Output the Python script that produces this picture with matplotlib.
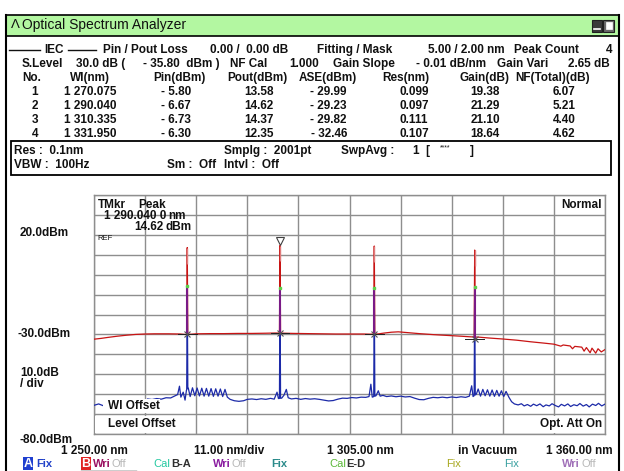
import numpy as np
import matplotlib.pyplot as plt
from matplotlib.patches import Rectangle

W, H = 624, 471
NARROW = ['Liberation Sans Narrow', 'Liberation Sans', 'DejaVu Sans']
PLAIN = ['Liberation Sans', 'DejaVu Sans']

# measured peak table
peak_no = [1, 2, 3, 4]
peak_wl = [1270.075, 1290.040, 1310.335, 1331.950]
pin = [-5.80, -6.67, -6.73, -6.30]
pout = [13.58, 14.62, 14.37, 12.35]
ase = [-29.99, -29.23, -29.82, -32.46]
res = [0.099, 0.097, 0.111, 0.107]
gain = [19.38, 21.29, 21.10, 18.64]
nf = [6.07, 5.21, 4.40, 4.62]

# axis settings
wl_start, wl_stop = 1250.0, 1360.0
ref_level, db_div = 20.0, 10.0

# output trace (red) between the peaks
output_floor = [
    (1250.0, -32.4), (1251.5, -32.0), (1253.0, -31.5), (1255.0, -30.9), (1257.0, -30.4),
    (1259.0, -30.0), (1261.0, -29.8), (1263.0, -29.7), (1266.0, -29.7), (1268.5, -29.8),
    (1269.5, -30.0), (1271.0, -29.9), (1272.0, -29.7), (1275.0, -29.6), (1278.0, -29.6),
    (1281.0, -29.5), (1284.0, -29.5), (1287.0, -29.4), (1289.0, -29.3), (1291.0, -29.4),
    (1293.0, -29.5), (1296.0, -29.6), (1299.0, -29.7), (1302.0, -29.8), (1305.0, -29.8),
    (1308.0, -29.8), (1309.5, -29.9), (1311.0, -29.8), (1312.5, -29.3), (1314.0, -28.9),
    (1315.5, -28.7), (1316.5, -28.9), (1318.0, -29.2), (1320.0, -29.6), (1323.0, -30.1),
    (1326.0, -30.5), (1329.0, -30.9), (1331.0, -31.2), (1333.0, -31.4), (1335.0, -31.8),
    (1338.0, -32.3), (1341.0, -32.9), (1344.0, -33.7), (1347.0, -34.4), (1349.0, -34.9),
    (1350.5, -35.9), (1351.0, -35.3), (1352.5, -35.8), (1353.0, -37.2), (1353.5, -36.0),
    (1355.0, -36.4), (1355.5, -38.4), (1356.0, -36.6), (1356.8, -39.2), (1357.2, -36.9),
    (1358.0, -39.4), (1358.5, -37.2), (1359.2, -38.8), (1360.0, -37.6),
]

# input trace (blue) between the peaks
input_floor = [
    (1250.0, -65.6), (1251.0, -64.9), (1252.0, -65.8), (1253.0, -65.2), (1254.0, -65.9),
    (1255.0, -65.0), (1256.0, -65.6), (1257.0, -65.1), (1258.0, -65.8), (1259.0, -65.3),
    (1260.0, -65.6), (1260.8, -64.5), (1261.5, -62.4), (1262.5, -62.7), (1263.5, -62.2),
    (1264.5, -62.5), (1265.5, -61.8), (1266.5, -61.9), (1267.3, -61.0), (1268.0, -60.2),
    (1268.4, -56.0), (1268.7, -61.5), (1269.2, -59.0), (1269.6, -63.0), (1269.9, -58.0),
    (1270.3, -57.0), (1270.7, -61.2), (1271.2, -56.8), (1271.7, -60.8), (1272.2, -56.9),
    (1272.7, -60.9), (1273.2, -57.0), (1273.7, -61.0), (1274.2, -57.1), (1274.7, -61.0),
    (1275.2, -57.2), (1275.7, -61.1), (1276.2, -57.3), (1276.7, -61.0), (1277.2, -57.4),
    (1277.7, -61.2), (1278.2, -57.6), (1278.7, -61.5), (1279.3, -62.6), (1280.2, -63.3),
    (1281.2, -63.6), (1282.2, -63.3), (1283.0, -62.6), (1284.0, -62.4), (1285.0, -62.7),
    (1286.0, -62.3), (1287.0, -62.6), (1288.0, -62.1), (1288.8, -62.5), (1289.4, -59.0),
    (1289.7, -62.2), (1290.4, -62.0), (1290.9, -60.5), (1291.4, -57.6), (1291.8, -61.8),
    (1292.5, -62.4), (1293.5, -62.1), (1294.5, -62.6), (1295.5, -62.2), (1296.5, -62.5),
    (1297.5, -62.3), (1298.5, -62.6), (1299.5, -63.0), (1300.5, -63.4), (1301.5, -63.2),
    (1302.5, -62.5), (1303.5, -62.0), (1304.5, -62.1), (1305.5, -61.7), (1306.5, -61.9),
    (1307.5, -61.5), (1308.5, -61.6), (1309.2, -61.2), (1309.6, -55.0), (1309.9, -61.5),
    (1310.7, -60.8), (1311.2, -58.3), (1311.6, -61.0), (1312.2, -60.6), (1313.0, -61.2),
    (1314.0, -60.9), (1315.0, -61.3), (1316.0, -61.0), (1317.0, -61.4), (1318.0, -61.2),
    (1319.0, -62.0), (1320.0, -62.7), (1321.0, -62.8), (1322.0, -62.1), (1323.0, -61.6),
    (1324.0, -61.8), (1325.0, -61.5), (1326.0, -61.8), (1327.0, -61.4), (1328.0, -61.7),
    (1329.0, -61.3), (1330.0, -61.6), (1330.8, -61.0), (1331.3, -55.8), (1331.6, -61.2),
    (1332.3, -60.0), (1332.7, -57.4), (1333.2, -61.0), (1333.7, -57.6), (1334.2, -60.8),
    (1334.7, -57.8), (1335.2, -61.0), (1335.7, -57.9), (1336.2, -61.1), (1336.7, -58.1),
    (1337.2, -61.0), (1337.7, -58.3), (1338.2, -61.2), (1338.7, -58.6), (1339.3, -61.5),
    (1339.9, -63.8), (1340.5, -64.9), (1341.3, -65.4), (1342.0, -64.8), (1342.6, -65.9),
    (1343.3, -65.2), (1344.0, -66.1), (1344.6, -65.0), (1345.3, -65.8), (1346.0, -64.9),
    (1346.7, -66.3), (1347.3, -65.4), (1348.0, -65.9), (1348.6, -64.8), (1349.3, -65.7),
    (1350.0, -66.4), (1350.6, -65.1), (1351.3, -65.9), (1352.0, -64.9), (1352.6, -66.2),
    (1353.3, -65.3), (1354.0, -65.8), (1354.6, -64.7), (1355.3, -66.0), (1356.0, -65.2),
    (1356.6, -66.4), (1357.3, -65.0), (1358.0, -65.7), (1358.6, -64.6), (1359.3, -65.9),
    (1360.0, -65.0),
]


def with_peaks(floor, levels, half=0.12):
    wl, db = np.array(floor).T
    extra_wl, extra_db = [], []
    for p, lv in zip(peak_wl, levels):
        for w in (p - half, p + half):
            extra_wl.append(w)
            extra_db.append(np.interp(w, wl, db))
        extra_wl.append(p)
        extra_db.append(lv)
    x = np.concatenate([wl, extra_wl])
    y = np.concatenate([db, extra_db])
    order = np.argsort(x)
    return x[order], y[order]


def fmt_wl(v, nd=3):
    s = f"{v:.{nd}f}"
    return s[0] + " " + s[1:]


def fmt_neg(v):
    return f"- {abs(v):.2f}" if v < 0 else f"{v:.2f}"


fig = plt.figure(figsize=(W / 100, H / 100), dpi=100)
fig.patch.set_facecolor('white')

# spectrum area
ax = fig.add_axes([94 / W, 1 - 434 / H, 511 / W, 239 / H])
ax.set_xlim(wl_start, wl_stop)
ax.set_ylim(ref_level - 10 * db_div, ref_level + 2 * db_div)
ax.set_xticks(np.arange(wl_start, wl_stop + 0.1, (wl_stop - wl_start) / 10))
ax.set_yticks(np.arange(ref_level - 10 * db_div, ref_level + 2 * db_div + 0.1, db_div))
ax.tick_params(length=0, labelbottom=False, labelleft=False)
ax.grid(True, color='#8e8e8e', lw=1.0)
for sp in ax.spines.values():
    sp.set_color('#8e8e8e')
    sp.set_linewidth(1.0)

ox, oy = with_peaks(output_floor, pout)
ix, iy = with_peaks(input_floor, pin)
ax.plot(ox, oy, color='#c81414', lw=0.9, zorder=3)
ax.plot(ix, iy, color='#1c2aa8', lw=0.9, zorder=4)
ax.vlines(peak_wl, ase, pin, color='#7a1a86', lw=1.5, zorder=5)
ax.vlines(peak_wl, np.array(pout) - 8, pout, color='#e07a7a', lw=1.0, zorder=5)
for p, a in zip(peak_wl, ase):
    ax.plot([p - 2.0, p + 2.0], [a, a], color='#202020', lw=0.7, zorder=6)
ax.plot(peak_wl, ase, 'x', color='#555555', ms=5, mew=0.8, zorder=7)
ax.plot(peak_wl, pin, 's', color='#5ccf4a', ms=2, zorder=7)
k = int(np.argmax(pout))
ax.plot(peak_wl[k], pout[k] + 2.4, 'v', mfc='white', mec='#404040', ms=6, mew=0.8, zorder=7)

# overlay in pixel coordinates
bg = fig.add_axes([0, 0, 1, 1], zorder=10)
bg.set_xlim(0, W)
bg.set_ylim(H, 0)
bg.axis('off')
bg.patch.set_alpha(0)


def t(x, y, s, ha='left', size=8.5, color='#111111', weight='bold', family=NARROW, **kw):
    bg.text(x, y, s, ha=ha, va='center', fontsize=size, color=color,
            fontweight=weight, family=family, **kw)


# window frame and title bar
bg.add_patch(Rectangle((6, 15), 613, 21, fc='#b3f7a1', ec='black', lw=1.2))
bg.plot([6, 6], [15, H], color='black', lw=1.5)
bg.plot([619, 619], [15, H], color='black', lw=1.5)
t(11, 25.5, 'Λ', size=9.5, weight='normal', family=PLAIN)
t(22, 25.5, 'Optical Spectrum Analyzer', size=10, weight='normal', family=PLAIN)
bg.add_patch(Rectangle((592, 19.5), 10, 12, fc='#3a3a3a', ec='#202020', lw=0.8))
bg.plot([594, 600], [29, 29], color='white', lw=1.2)
bg.add_patch(Rectangle((603, 19.5), 11, 12, fc='#6a6a6a', ec='#202020', lw=0.8))
bg.add_patch(Rectangle((605.5, 22), 6, 7, fc='white', ec='white', lw=0.5))

# header
y1 = 50
bg.plot([9, 40], [y1, y1], color='#111111', lw=1)
t(54, y1, 'IEC', ha='center')
bg.plot([68, 96], [y1, y1], color='#111111', lw=1)
t(103, y1, 'Pin / Pout Loss')
t(210, y1, '0.00 /  0.00 dB')
t(317, y1, 'Fitting / Mask')
t(505, y1, '5.00 / 2.00 nm', ha='right')
t(514, y1, 'Peak Count')
t(612, y1, str(len(peak_no)), ha='right')

y2 = 64
t(22, y2, 'S.Level')
t(76, y2, '30.0 dB (')
t(143, y2, '- 35.80  dBm )')
t(230, y2, 'NF Cal')
t(289, y2, '1.000')
t(333, y2, 'Gain Slope')
t(416, y2, '- 0.01 dB/nm')
t(497, y2, 'Gain Vari')
t(610, y2, '2.65 dB', ha='right')

y3 = 78
for x, s in [(22, 'No.'), (70, 'Wl(nm)'), (153, 'Pin(dBm)'), (227, 'Pout(dBm)'),
             (299, 'ASE(dBm)'), (382, 'Res(nm)'), (460, 'Gain(dB)'), (515, 'NF(Total)(dB)')]:
    t(x, y3, s)

for i in range(len(peak_no)):
    y = 92 + i * 14
    t(35, y, str(peak_no[i]), ha='center')
    t(64, y, fmt_wl(peak_wl[i]))
    t(191, y, fmt_neg(pin[i]), ha='right')
    t(259, y, f"{pout[i]:.2f}", ha='center')
    t(347, y, fmt_neg(ase[i]), ha='right')
    t(414, y, f"{res[i]:.3f}", ha='center')
    t(485, y, f"{gain[i]:.2f}", ha='center')
    t(564, y, f"{nf[i]:.2f}", ha='center')

# settings box
bg.add_patch(Rectangle((11, 141), 600, 34, fill=False, ec='black', lw=1.3))
t(14, 151, 'Res :  0.1nm')
t(224, 151, 'Smplg :  2001pt')
t(341, 151, 'SwpAvg :')
t(413, 151, '1  [')
t(445, 148, '****', ha='center', size=5, weight='normal')
t(470, 151, ']')
t(14, 165, 'VBW :  100Hz')
t(167, 165, 'Sm :  Off')
t(224, 165, 'Intvl :  Off')


def ypix(v):
    lo, hi = ax.get_ylim()
    return 434 - (v - lo) / (hi - lo) * 239


def xpix(v):
    return 94 + (v - wl_start) / (wl_stop - wl_start) * 511


# marker readout inside the grid
t(98, 205, 'TMkr')
t(138, 205, 'Peak')
wl_txt = fmt_wl(peak_wl[k], 4)
t(104, 216, wl_txt[:-1] + ' ' + wl_txt[-1])
t(168, 216, 'nm')
t(134, 227, f"{pout[k]:.2f}")
t(165, 227, 'dBm')
t(97, 239, 'REF', size=5.5, weight='normal', family=PLAIN)
t(602, 205, 'Normal', ha='right')

# level labels
t(20, ypix(ref_level) - 2, f"{ref_level:.1f}dBm")
t(18, ypix(ref_level - 5 * db_div), f"{ref_level - 5 * db_div:.1f}dBm")
t(20, 373, f"{db_div:.1f}dB")
t(20, 384, '/ div')
t(20, 440, f"{ref_level - 10 * db_div:.1f}dBm")

# labels sitting on the grid
bg.add_patch(Rectangle((103, 399), 57, 14, fc='white', ec='none'))
bg.add_patch(Rectangle((95, 415.5), 82, 17.5, fc='white', ec='none'))
bg.add_patch(Rectangle((543, 415.5), 61, 17.5, fc='white', ec='none'))
t(108, 406, 'Wl Offset')
t(108, 424, 'Level Offset')
t(602, 424, 'Opt. Att On', ha='right')

# bottom scale line
yb = 451
t(xpix(wl_start), yb, f"{wl_start:,.2f}".replace(',', ' ') + ' nm', ha='center')
t(229, yb, f"{(wl_stop - wl_start) / 10:.2f} nm/div", ha='center')
t(360, yb, f"{(wl_start + wl_stop) / 2:,.2f}".replace(',', ' ') + ' nm', ha='center')
t(458, yb, 'in Vacuum')
t(613, yb, f"{wl_stop:,.2f}".replace(',', ' ') + ' nm', ha='right')

# trace legend row
yl = 464
bg.add_patch(Rectangle((23, 457), 10, 13, fc='#1f3fd0', ec='none'))
t(28, yl, 'A', ha='center', color='white', size=9)
t(36, yl, 'Fix', color='#2040c8', size=8)
bg.add_patch(Rectangle((81, 457), 10, 13, fc='#e02222', ec='none'))
t(86, yl, 'B', ha='center', color='white', size=9)
t(93, yl, 'Wri', color='#9a1060', size=8)
t(111, yl, 'Off', color='#b8b8b8', size=8, weight='normal')
bg.plot([81, 136], [470.5, 470.5], color='black', lw=1)
t(153, yl, 'Cal', color='#22c8a0', size=8, weight='normal')
t(171, yl, 'B-A', color='#303030', size=8)
t(213, yl, 'Wri', color='#8a1ca0', size=8)
t(231, yl, 'Off', color='#b8b8b8', size=8, weight='normal')
t(271, yl, 'Fix', color='#2a8a8a', size=8)
t(329, yl, 'Cal', color='#5ab838', size=8, weight='normal')
t(346, yl, 'E-D', color='#303030', size=8)
t(446, yl, 'Fix', color='#a8a820', size=8, weight='normal')
t(504, yl, 'Fix', color='#3aa0a0', size=8, weight='normal')
t(562, yl, 'Wri', color='#a070b8', size=8)
t(582, yl, 'Off', color='#b8b8b8', size=8, weight='normal')

fig.savefig('out.png', dpi=100)
